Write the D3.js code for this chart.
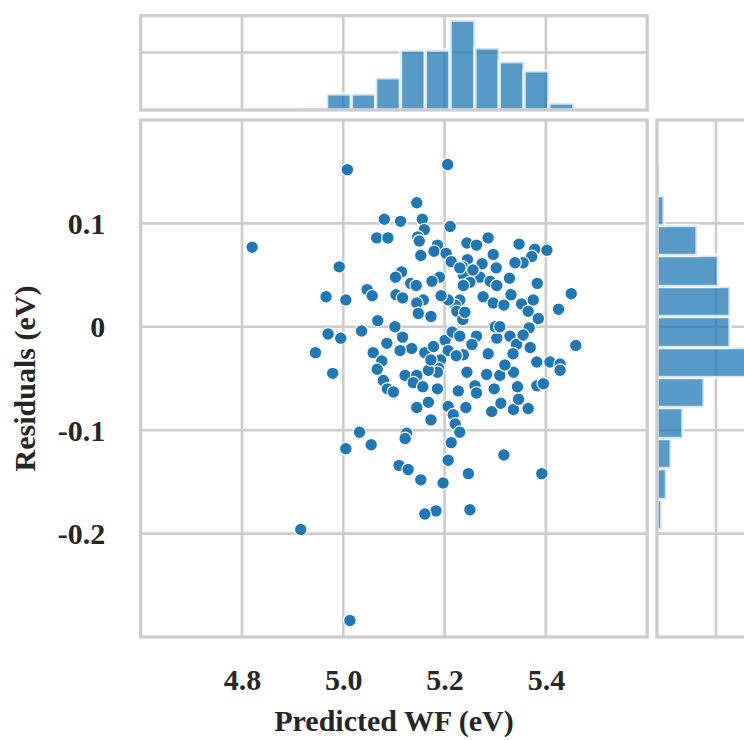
<!DOCTYPE html>
<html>
<head>
<meta charset="utf-8">
<script src="https://cdn.jsdelivr.net/npm/d3@7"></script>
<style>
  html, body { margin: 0; padding: 0; background: #fff; }
  svg { display: block; }
  text { font-family: "Liberation Serif", "Times New Roman", serif; font-weight: bold; fill: #262626; }
</style>
</head>
<body>
<svg id="chart" width="744" height="740"></svg>
<script>
// Predicted work function (eV) and residual (eV) for each sample
const predictedWF = [
  5.008, 4.820, 5.081, 5.066, 5.088, 4.992, 5.047, 5.057, 4.966, 5.005,
  5.068, 5.036, 4.970, 4.995, 4.945, 5.059, 5.076, 5.067, 4.979, 5.079,
  5.087, 5.032, 5.005, 5.055, 4.916, 5.013, 5.206, 5.145, 5.113, 5.156,
  5.160, 5.147, 5.150, 5.211, 5.286, 5.244, 5.263, 5.347, 5.378, 5.402,
  5.372, 5.355, 5.339, 5.296, 5.186, 5.179, 5.203, 5.213, 5.153, 5.245,
  5.235, 5.274, 5.302, 5.237, 5.270, 5.290, 5.250, 5.237, 5.328, 5.383,
  5.450, 5.425, 5.459, 5.115, 5.103, 5.133, 5.144, 5.190, 5.175, 5.104,
  5.117, 5.158, 5.145, 5.148, 5.173, 5.230, 5.221, 5.224, 5.236, 5.276,
  5.296, 5.317, 5.331, 5.352, 5.375, 5.365, 5.385, 5.367, 5.102, 5.117,
  5.135, 5.161, 5.178, 5.201, 5.215, 5.207, 5.192, 5.188, 5.237, 5.263,
  5.286, 5.303, 5.300, 5.329, 5.342, 5.369, 5.382, 5.408, 5.428, 5.335,
  5.244, 5.283, 5.309, 5.336, 5.122, 5.099, 5.186, 5.168, 5.145, 5.173,
  5.227, 5.207, 5.217, 5.221, 5.230, 5.213, 5.207, 5.197, 5.242, 5.260,
  5.298, 5.293, 5.311, 5.336, 5.346, 5.344, 5.365, 5.382, 5.395, 5.428,
  5.125, 5.122, 5.110, 5.128, 5.153, 5.247, 5.317, 5.392, 5.183, 5.161,
  5.250, 5.186, 5.145, 5.168, 5.263,
  5.230, 5.256, 5.207, 5.240, 5.309, 5.355, 5.230, 5.254, 5.173, 5.112,
  5.138, 5.157, 5.319, 5.303, 5.193, 5.086, 5.223
];
const residuals = [
  0.152, 0.077, 0.104, 0.086, 0.086, 0.058, 0.036, 0.030, 0.029, 0.026,
  0.006, -0.004, -0.007, -0.011, -0.025, -0.025, -0.033, -0.041, -0.045, -0.052,
  -0.060, -0.102, -0.118, -0.114, -0.196, -0.284, 0.157, 0.120, 0.102, 0.104,
  0.094, 0.087, 0.083, 0.097, 0.086, 0.081, 0.079, 0.080, 0.075, 0.074,
  0.068, 0.062, 0.062, 0.070, 0.079, 0.073, 0.071, 0.063, 0.069, 0.065,
  0.058, 0.061, 0.057, 0.050, 0.048, 0.044, 0.043, 0.040, 0.047, 0.042,
  0.032, 0.017, -0.018, 0.053, 0.048, 0.042, 0.040, 0.048, 0.044, 0.031,
  0.028, 0.026, 0.023, 0.013, 0.010, 0.026, 0.021, 0.015, 0.007, 0.029,
  0.023, 0.021, 0.031, 0.022, 0.026, 0.015, 0.008, -0.001, 0.000, -0.010,
  -0.021, -0.025, -0.019, -0.013, -0.005, -0.023, -0.032, -0.040, -0.027, -0.009,
  -0.026, -0.011, 0.000, -0.009, -0.017, -0.020, -0.034, -0.034, -0.036, -0.026,
  -0.044, -0.046, -0.047, -0.044, -0.047, -0.063, -0.060, -0.073, -0.078, -0.090,
  -0.062, -0.077, -0.085, -0.094, -0.102, -0.112, -0.129, -0.151, -0.078, -0.057,
  -0.060, -0.082, -0.074, -0.080, -0.070, -0.058, -0.079, -0.057, -0.055, -0.042,
  -0.103, -0.108, -0.134, -0.138, -0.148, -0.142, -0.124, -0.142, -0.178, -0.181,
  -0.177, -0.044, -0.047, -0.042, -0.064,
  0.057, 0.055, 0.026, 0.014, 0.000, -0.008, -0.009, -0.017, -0.032, -0.023,
  -0.054, -0.058, -0.037, 0.040, 0.030, -0.016, -0.028
];

// Marginal histograms: bin edges and counts
const wfBinEdges = [4.918, 4.967, 5.016, 5.064, 5.113, 5.162, 5.211, 5.260, 5.308, 5.357, 5.406, 5.455];
const wfCounts = [1, 7, 7, 14, 26, 26, 39, 27, 21, 17, 3];
const resBinEdges = [-0.196, -0.167, -0.137, -0.108, -0.078, -0.049, -0.020, 0.010, 0.039, 0.069, 0.098, 0.127, 0.157];
const resCounts = [2, 4, 6, 11, 20, 40, 31, 31, 26, 17, 3, 1];

// Axis ticks
const xTicks = [4.8, 5.0, 5.2, 5.4];
const xTickLabels = ["4.8", "5.0", "5.2", "5.4"];
const yTicks = [-0.2, -0.1, 0, 0.1];
const yTickLabels = ["-0.2", "-0.1", "0", "0.1"];
const countTicks = [25];

const xTitle = "Predicted WF (eV)";
const yTitle = "Residuals (eV)";

// Layout of the three panels
const mainPanel = { x0: 140.7, x1: 647.2, y0: 120, y1: 637 };
const topPanel = { y0: 15.7, y1: 110 };
const sidePanel = { x0: 657, x1: 756 };

const blue = "#1f77b4";
const gridColor = "#cccccc";
const gridWidth = 2.6;
const spineWidth = 3.2;

const svg = d3.select("#chart");

const x = d3.scaleLinear().domain([4.6, 5.6]).range([mainPanel.x0, mainPanel.x1]);
const y = d3.scaleLinear().domain([-0.3, 0.2]).range([mainPanel.y1, mainPanel.y0]);
const topCount = d3.scaleLinear().domain([0, d3.max(wfCounts) * 1.05]).range([topPanel.y1, topPanel.y0]);
const sideCount = d3.scaleLinear().domain([0, d3.max(resCounts) * 1.05]).range([sidePanel.x0, sidePanel.x1]);

function vGrid(g, ticks, scale, y0, y1) {
  g.selectAll(null).data(ticks).join("line")
    .attr("x1", d => scale(d)).attr("x2", d => scale(d))
    .attr("y1", y0).attr("y2", y1)
    .attr("stroke", gridColor).attr("stroke-width", gridWidth);
}
function hGrid(g, ticks, scale, x0, x1) {
  g.selectAll(null).data(ticks).join("line")
    .attr("y1", d => scale(d)).attr("y2", d => scale(d))
    .attr("x1", x0).attr("x2", x1)
    .attr("stroke", gridColor).attr("stroke-width", gridWidth);
}
function frame(g, x0, y0, x1, y1) {
  g.append("rect")
    .attr("x", x0).attr("y", y0)
    .attr("width", x1 - x0).attr("height", y1 - y0)
    .attr("fill", "none")
    .attr("stroke", gridColor).attr("stroke-width", spineWidth);
}
// Histogram bars: translucent fill with a translucent white edge
function barStyle(sel) {
  sel.attr("fill", blue).attr("fill-opacity", 0.75)
    .attr("stroke", "#ffffff").attr("stroke-opacity", 0.75)
    .attr("stroke-width", 3.4);
}

// ---- Joint scatter panel ----
const gMain = svg.append("g");
vGrid(gMain.append("g"), xTicks, x, mainPanel.y0, mainPanel.y1);
hGrid(gMain.append("g"), yTicks, y, mainPanel.x0, mainPanel.x1);

const points = d3.zip(predictedWF, residuals);
gMain.append("g").selectAll("circle").data(points).join("circle")
  .attr("cx", d => x(d[0]))
  .attr("cy", d => y(d[1]))
  .attr("r", 6.3)
  .attr("fill", blue)
  .attr("stroke", "#ffffff")
  .attr("stroke-width", 1.2);
frame(gMain, mainPanel.x0, mainPanel.y0, mainPanel.x1, mainPanel.y1);

// ---- Top marginal histogram (predicted WF) ----
const gTop = svg.append("g");
vGrid(gTop.append("g"), xTicks, x, topPanel.y0, topPanel.y1);
hGrid(gTop.append("g"), countTicks, topCount, mainPanel.x0, mainPanel.x1);
gTop.append("g").selectAll("rect").data(wfCounts).join("rect")
  .attr("x", (d, i) => x(wfBinEdges[i]))
  .attr("width", (d, i) => x(wfBinEdges[i + 1]) - x(wfBinEdges[i]))
  .attr("y", d => topCount(d))
  .attr("height", d => topCount(0) - topCount(d))
  .call(barStyle);
frame(gTop, mainPanel.x0, topPanel.y0, mainPanel.x1, topPanel.y1);

// ---- Right marginal histogram (residuals) ----
const gSide = svg.append("g");
hGrid(gSide.append("g"), yTicks, y, sidePanel.x0, sidePanel.x1);
vGrid(gSide.append("g"), countTicks, sideCount, mainPanel.y0, mainPanel.y1);
gSide.append("g").selectAll("rect").data(resCounts).join("rect")
  .attr("x", sideCount(0))
  .attr("width", d => sideCount(d) - sideCount(0))
  .attr("y", (d, i) => y(resBinEdges[i + 1]))
  .attr("height", (d, i) => y(resBinEdges[i]) - y(resBinEdges[i + 1]))
  .call(barStyle);
frame(gSide, sidePanel.x0, mainPanel.y0, sidePanel.x1, mainPanel.y1);

// ---- Tick labels ----
const xAxis = d3.axisBottom(x)
  .tickValues(xTicks)
  .tickFormat((d, i) => xTickLabels[i])
  .tickSize(0);
const gx = svg.append("g").attr("transform", `translate(0,${mainPanel.y1})`).call(xAxis);
gx.select(".domain").remove();
gx.selectAll("text")
  .attr("y", 53).attr("dy", 0)
  .attr("font-size", 30)
  .attr("font-family", "'Liberation Serif', 'Times New Roman', serif")
  .attr("font-weight", "bold")
  .attr("fill", "#262626");

const yAxis = d3.axisLeft(y)
  .tickValues(yTicks)
  .tickFormat((d, i) => yTickLabels[i])
  .tickSize(0);
const gy = svg.append("g").attr("transform", `translate(${mainPanel.x0},0)`).call(yAxis);
gy.select(".domain").remove();
gy.selectAll("text")
  .attr("x", -35.5).attr("dy", "0.33em")
  .attr("font-size", 30)
  .attr("font-family", "'Liberation Serif', 'Times New Roman', serif")
  .attr("font-weight", "bold")
  .attr("fill", "#262626");

// ---- Axis titles ----
svg.append("text")
  .attr("x", (mainPanel.x0 + mainPanel.x1) / 2)
  .attr("y", 731)
  .attr("text-anchor", "middle")
  .attr("font-size", 30)
  .text(xTitle);

svg.append("text")
  .attr("transform", `translate(35,${(mainPanel.y0 + mainPanel.y1) / 2}) rotate(-90)`)
  .attr("text-anchor", "middle")
  .attr("font-size", 30)
  .text(yTitle);
</script>
</body>
</html>
